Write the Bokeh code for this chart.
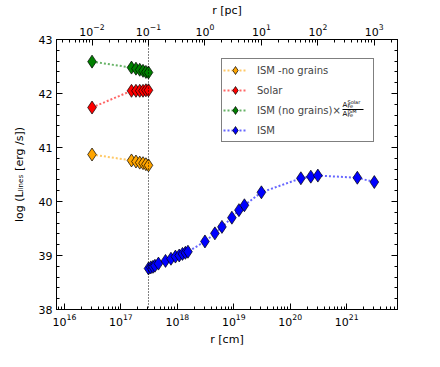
from bokeh.plotting import figure
from bokeh.models import (Range1d, LogScale, LogAxis, LinearAxis, Span, Legend, LegendItem,
                          FixedTicker, SingleIntervalTicker, Label, CustomJSTickFormatter,
                          BoxAnnotation)
from bokeh.embed import file_html
from bokeh.resources import INLINE

PC_CM = 3.086e18

# radii in pc
r_cluster_pc = [0.01, 0.05, 0.06, 0.07, 0.08, 0.09, 0.1]
ism_nograins = [40.87, 40.76, 40.74, 40.72, 40.71, 40.69, 40.67]
solar = [41.74, 42.05, 42.05, 42.05, 42.05, 42.06, 42.06]
ism_nograins_scaled = [42.59, 42.48, 42.46, 42.44, 42.42, 42.40, 42.39]

r_ism_pc = [0.1, 0.11, 0.12, 0.13, 0.15, 0.2, 0.25, 0.3, 0.35, 0.4, 0.45, 0.5,
            1, 1.5, 2, 3, 4, 5, 10, 50, 75, 100, 500, 1000]
ism = [38.76, 38.78, 38.79, 38.81, 38.85, 38.90, 38.94, 38.98, 39.00, 39.03, 39.05, 39.07,
       39.26, 39.41, 39.53, 39.70, 39.84, 39.93, 40.17, 40.43, 40.46, 40.48, 40.44, 40.36]

x_decades = [16, 17, 18, 19, 20, 21]
pc_decades = [-2, -1, 0, 1, 2, 3]

r_cluster_cm = [r * PC_CM for r in r_cluster_pc]
r_ism_cm = [r * PC_CM for r in r_ism_pc]

LOG_XMIN, LOG_XMAX = 15.86, 21.9
xmin, xmax = 10 ** LOG_XMIN, 10 ** LOG_XMAX
FW, FH = 341, 270

p = figure(frame_width=FW, frame_height=FH, x_axis_type="log", output_backend="svg",
           toolbar_location=None, x_range=Range1d(xmin, xmax), y_range=Range1d(38, 43),
           min_border_left=56, min_border_right=20, min_border_top=33, min_border_bottom=40)
p.xgrid.visible = False
p.ygrid.visible = False
p.outline_line_color = "black"
p.background_fill_color = "white"
p.border_fill_color = "white"

p.extra_x_ranges = {"pc": Range1d(xmin / PC_CM, xmax / PC_CM)}
p.extra_x_scales = {"pc": LogScale()}
top = LogAxis(x_range_name="pc", axis_label="r [pc]")
p.add_layout(top, "above")
right = LinearAxis(formatter=CustomJSTickFormatter(code="return ''"))
p.add_layout(right, "right")
bottom = p.below[0]
left = p.left[0]

bottom.ticker = FixedTicker(ticks=[10.0 ** d for d in x_decades],
                            minor_ticks=[m * 10.0 ** d for d in range(15, 22) for m in range(1, 10)])
top.ticker = FixedTicker(ticks=[10.0 ** d for d in pc_decades],
                         minor_ticks=[m * 10.0 ** d for d in range(-3, 4) for m in range(1, 10)])
left.ticker = SingleIntervalTicker(interval=1, num_minor_ticks=5)
right.ticker = SingleIntervalTicker(interval=1, num_minor_ticks=5)

bottom.axis_label = "r [cm]"
left.axis_label = "log (Lₗᵢₙₑₛ [erg /s])"

for ax in [bottom, top, left, right]:
    ax.major_tick_in = 6
    ax.major_tick_out = 0
    ax.minor_tick_in = 3
    ax.minor_tick_out = 0
    ax.axis_line_color = "black"
    ax.major_tick_line_color = "black"
    ax.minor_tick_line_color = "black"
    ax.major_label_text_font = "DejaVu Sans"
    ax.major_label_text_font_size = "11px"
    ax.major_label_text_color = "black"
    ax.axis_label_text_font = "DejaVu Sans"
    ax.axis_label_text_font_size = "11px"
    ax.axis_label_text_font_style = "normal"
    ax.axis_label_text_color = "black"
    ax.major_label_standoff = 4
    ax.axis_label_standoff = 4
left.axis_label_standoff = 10

p.add_layout(Span(location=0.1 * PC_CM, dimension="height", line_color="black",
                  line_dash="1 2", line_width=1))

series = [
    (r_cluster_cm, ism_nograins, "orange", "ISM -no grains"),
    (r_cluster_cm, solar, "red", "Solar"),
    (r_cluster_cm, ism_nograins_scaled, "green", "ISM (no grains)×"),
    (r_ism_cm, ism, "blue", "ISM"),
]
items = []
for xs, ys, c, lab in series:
    ln = p.line(xs, ys, line_color=c, line_dash="2 2", line_width=2, line_alpha=0.6)
    sc = p.scatter(xs, ys, marker="diamond", size=13, fill_color=c, line_color="black",
                   line_width=0.7)
    items.append(LegendItem(label=lab, renderers=[ln, sc]))

# legend box: left 165 px from frame left, bottom 167 px above frame bottom
leg = Legend(items=items, location=(165, 167), label_text_font="DejaVu Sans",
             label_text_font_size="10px", label_height=20, glyph_height=20, glyph_width=24,
             label_width=115, spacing=0, padding=1, margin=0, border_line_color="black",
             border_line_width=1, label_standoff=10, background_fill_alpha=0)
p.add_layout(leg)


# fraction A_Fe^Solar / A_Fe^ISM after the third legend label (positions in frame pixels)
def dx(px):
    return 10 ** (LOG_XMIN + px / FW * (LOG_XMAX - LOG_XMIN))


def dy(py):
    return 43 - py / FH * 5


frac_y = 111 - 41  # frame pixel row of the fraction bar
fx = 341 - 55      # frame pixel column where the fraction starts
frac_texts = [
    ("A", 0, -1, "7px"), ("Solar", 5, -5, "5px"), ("Fe", 5, -1, "5px"),
    ("A", 0, 8, "7px"), ("ISM", 5, 4, "5px"), ("Fe", 5, 8, "5px"),
]
p.add_layout(BoxAnnotation(left=dx(fx), right=dx(fx + 21), top=dy(frac_y - 0.4),
                           bottom=dy(frac_y + 0.4), fill_color="black", fill_alpha=1,
                           line_color=None, level="overlay"))
for t, ox, oy, fs in frac_texts:
    p.add_layout(Label(x=dx(fx + ox), y=dy(frac_y + oy), text=t, text_font="DejaVu Sans",
                       text_font_size=fs, text_color="black", text_baseline="bottom",
                       level="overlay"))

out = file_html(p, INLINE)
open("out.html", "w").write(out)
